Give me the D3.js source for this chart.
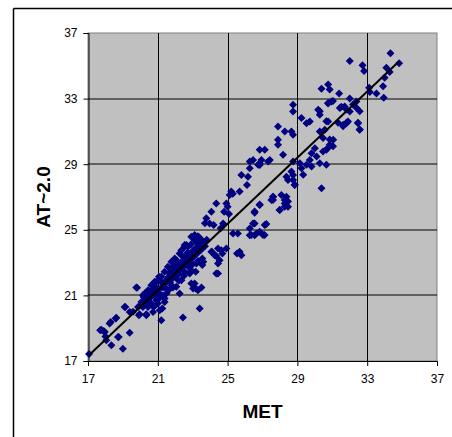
<!DOCTYPE html>
<html>
<head>
<meta charset="utf-8">
<script src="https://cdn.jsdelivr.net/npm/d3@7"></script>
<style>
	body { margin: 0; background: #fff; overflow: hidden; }
	svg { display: block; }
</style>
</head>
<body>
<svg id="chart" width="452" height="437"></svg>
<script>
// MET vs AT~2.0 readings
const metValues = [
	17.06, 17.7, 17.76, 17.96, 18.05, 18.0, 18.3, 18.62, 18.76, 18.34, 19.0, 19.39, 19.14, 19.39, 19.81, 19.96,
	20.34, 20.15, 20.25, 19.58, 19.87, 20.06, 20.19, 20.34, 20.5, 20.63, 20.82, 20.92, 21.2, 21.58, 21.97, 22.35,
	22.54, 22.73, 23.3, 22.64, 22.92, 23.11, 23.36, 22.25, 21.78, 21.39, 21.07, 20.44, 20.15, 20.63, 20.82, 21.49,
	21.97, 22.06, 22.35, 22.54, 22.67, 21.49, 21.39, 20.92, 20.63, 20.44, 20.73, 21.2, 21.11, 21.39, 22.06, 22.35,
	22.54, 22.92, 23.11, 23.3, 23.4, 22.44, 23.59, 24.35, 23.55, 23.55, 23.21, 23.17, 22.83, 22.92, 23.17, 23.5,
	23.02, 22.25, 21.87, 21.77, 21.2, 21.07, 21.26, 20.76, 20.34, 19.92, 19.77, 19.1, 18.72, 18.59, 18.24, 17.9,
	20.0, 20.3, 20.5, 20.7, 20.9, 21.0, 21.1, 21.3, 21.4, 21.5, 21.6, 21.7, 21.8, 21.9, 22.0, 22.1,
	22.2, 22.3, 22.4, 22.5, 22.6, 22.7, 22.8, 22.9, 23.0, 23.1, 23.2, 23.3, 23.4, 23.5, 23.6, 23.7,
	23.8, 20.9, 21.2, 21.5, 21.7, 22.0, 22.2, 21.3, 20.6, 21.0, 21.6, 21.8, 22.2, 22.5, 22.8, 23.0,
	23.3, 26.27, 26.84, 27.32, 25.79, 26.17, 26.11, 25.69, 25.21, 25.12, 25.3, 24.93, 24.35, 25.0, 24.8, 25.08,
	24.07, 23.78, 23.97, 23.7, 24.2, 24.74, 24.6, 23.11, 23.3, 23.5, 22.9, 22.54, 22.7, 22.4, 22.06, 21.9,
	21.68, 23.59, 24.07, 24.26, 24.64, 24.93, 24.54, 24.45, 25.69, 25.79, 25.31, 25.59, 26.27, 26.27, 26.55, 26.84,
	27.12, 27.22, 26.55, 26.55, 26.84, 27.6, 27.6, 27.98, 28.27, 28.37, 28.46, 28.46, 28.75, 28.84, 25.54, 24.7,
	24.45, 24.35, 24.45, 24.1, 28.75, 28.75, 29.23, 29.52, 29.71, 30.19, 30.28, 30.76, 30.95, 31.43, 31.71, 32.0,
	32.38, 32.48, 32.57, 31.81, 31.62, 31.9, 30.76, 30.28, 30.57, 27.89, 28.28, 28.66, 28.75, 27.89, 27.89, 26.84,
	27.13, 28.18, 26.46, 26.94, 27.42, 26.75, 26.84, 26.27, 30.47, 31.05, 30.85, 30.66, 30.47, 30.0, 30.1, 29.81,
	29.71, 29.52, 29.14, 29.23, 28.75, 28.66, 28.37, 28.75, 28.85, 29.33, 29.81, 30.28, 30.66, 30.38, 27.61, 27.51,
	28.08, 28.27, 28.46, 27.99, 28.27, 26.84, 26.55, 26.46, 27.13, 26.65, 27.03, 26.36, 34.33, 34.83, 34.1, 34.29,
	34.0, 32.0, 32.73, 32.82, 33.91, 33.11, 33.15, 33.53, 33.95, 30.76, 30.85, 30.38, 31.39, 32.0, 31.04, 30.76,
	31.52, 31.81, 32.19, 32.38, 32.57, 30.28, 30.66, 31.33, 31.62, 31.81, 32.47, 32.57, 30.85, 31.04, 30.76
];
const atValues = [
	17.42, 18.87, 18.9, 18.77, 18.26, 18.5, 19.38, 19.63, 18.47, 17.96, 17.75, 18.73, 20.3, 19.99, 21.46, 19.85,
	19.85, 20.3, 21.11, 20.0, 20.3, 20.6, 20.91, 21.01, 21.22, 21.32, 21.52, 21.83, 22.13, 22.74, 23.25, 23.76,
	24.07, 23.96, 24.17, 24.07, 24.58, 24.68, 24.54, 23.56, 23.05, 22.44, 22.13, 21.32, 21.01, 21.62, 21.83, 21.93,
	22.44, 22.85, 22.95, 23.25, 23.45, 21.11, 20.81, 20.71, 20.5, 20.3, 19.99, 19.48, 20.1, 20.6, 21.52, 21.93,
	22.44, 22.54, 21.73, 21.32, 20.2, 19.65, 23.05, 22.34, 23.25, 22.85, 22.95, 22.44, 22.34, 21.73, 21.42, 21.48,
	21.42, 21.11, 21.48, 21.97, 21.48, 20.81, 20.2, 20.3, 19.79, 19.79, 21.48, 20.3, 18.47, 19.59, 19.28, 18.83,
	20.4, 20.6, 20.8, 21.0, 21.2, 21.4, 21.1, 21.5, 21.7, 21.9, 22.1, 22.3, 22.5, 22.2, 22.7, 22.4,
	22.9, 22.6, 23.1, 22.8, 23.3, 23.0, 23.5, 23.2, 23.7, 23.4, 23.9, 23.6, 24.0, 23.8, 24.2, 24.0,
	24.4, 20.9, 21.8, 21.4, 21.8, 22.1, 22.3, 21.0, 21.1, 20.5, 21.3, 21.6, 21.9, 22.2, 22.7, 22.9,
	23.1, 29.16, 28.95, 29.16, 28.34, 28.24, 27.73, 27.33, 27.33, 27.12, 27.2, 26.61, 26.61, 26.4, 26.1, 25.96,
	26.1, 25.7, 25.39, 25.4, 25.3, 25.39, 25.1, 24.37, 24.6, 24.4, 24.1, 23.96, 23.6, 23.4, 23.15, 22.8,
	22.4, 23.05, 23.66, 23.45, 23.75, 23.86, 23.15, 22.33, 23.66, 23.45, 24.78, 24.78, 25.08, 24.67, 24.67, 24.88,
	24.68, 25.35, 25.39, 26.04, 26.55, 27.02, 26.82, 26.2, 26.61, 27.02, 26.4, 28.04, 28.34, 27.73, 23.56, 23.56,
	23.86, 23.4, 22.95, 23.66, 32.62, 32.22, 31.81, 31.5, 31.6, 32.32, 32.02, 32.73, 32.83, 32.42, 32.52, 32.22,
	32.83, 31.5, 31.1, 31.5, 31.4, 31.6, 31.61, 31.0, 31.1, 31.3, 31.0, 31.0, 30.79, 30.49, 30.18, 29.88,
	29.88, 29.57, 29.26, 29.26, 29.26, 28.96, 29.06, 28.75, 30.59, 30.49, 30.18, 29.88, 29.77, 29.98, 29.47, 29.67,
	29.26, 28.96, 29.06, 28.75, 29.16, 28.55, 28.24, 28.04, 27.74, 28.35, 28.86, 29.06, 28.96, 27.53, 27.02, 26.82,
	27.12, 26.82, 26.72, 26.21, 26.41, 26.51, 26.11, 25.39, 25.29, 24.78, 24.68, 24.68, 35.76, 35.15, 34.88, 34.62,
	34.27, 35.29, 35.04, 34.68, 33.76, 33.66, 33.4, 33.31, 33.05, 33.86, 33.55, 33.6, 33.31, 33.01, 32.85, 32.7,
	32.5, 32.34, 32.64, 32.44, 32.23, 32.23, 31.62, 31.52, 31.32, 31.52, 31.52, 31.11, 30.5, 30.09, 30.0
];

// fitted line endpoints
const trendMet = [17.1, 34.8];
const trendAt = [17.4, 35.25];

const metTicks = [17, 21, 25, 29, 33, 37];
const atTicks = [17, 21, 25, 29, 33, 37];

const svg = d3.select("svg#chart");

// outer chart frame: only top and left edges show, the rest is cut off
svg
	.append("line")
	.attr("x1", 13.5)
	.attr("y1", 8.5)
	.attr("x2", 452)
	.attr("y2", 8.5)
	.attr("stroke", "#000")
	.attr("stroke-width", 1.5);
svg
	.append("line")
	.attr("x1", 13.5)
	.attr("y1", 8.5)
	.attr("x2", 13.5)
	.attr("y2", 437)
	.attr("stroke", "#000")
	.attr("stroke-width", 1.5);

const margin = { top: 33, right: 15, bottom: 76, left: 88 };
const plotW = 452 - margin.left - margin.right;
const plotH = 437 - margin.top - margin.bottom;

const xScale = d3.scaleLinear().domain([17, 37]).range([margin.left, margin.left + plotW]);
const yScale = d3.scaleLinear().domain([17, 37]).range([margin.top + plotH, margin.top]);

// plot background
svg
	.append("rect")
	.attr("x", margin.left)
	.attr("y", margin.top)
	.attr("width", plotW)
	.attr("height", plotH)
	.attr("fill", "#c0c0c0")
	.attr("stroke", "#808080");

const grid = svg.append("g");

grid
	.selectAll("line.v")
	.data(metTicks.slice(1, -1))
	.join("line")
	.attr("x1", (d) => Math.round(xScale(d)) + 0.5)
	.attr("x2", (d) => Math.round(xScale(d)) + 0.5)
	.attr("y1", margin.top)
	.attr("y2", margin.top + plotH)
	.attr("stroke", "#000");

grid
	.selectAll("line.h")
	.data(atTicks.slice(1, -1))
	.join("line")
	.attr("x1", margin.left)
	.attr("x2", margin.left + plotW)
	.attr("y1", (d) => Math.round(yScale(d)))
	.attr("y2", (d) => Math.round(yScale(d)))
	.attr("stroke", "#000");

// axes
const bottomAxis = d3.axisBottom(xScale).tickValues(metTicks).tickSize(5).tickPadding(8);
const leftAxis = d3.axisLeft(yScale).tickValues(atTicks).tickSize(5).tickPadding(6);

const xAxisG = svg
	.append("g")
	.attr("transform", `translate(0,${margin.top + plotH})`)
	.call(bottomAxis);

const yAxisG = svg
	.append("g")
	.attr("transform", `translate(${margin.left + 0.5},0)`)
	.call(leftAxis);

[xAxisG, yAxisG].forEach((g) => {
	g.select(".domain").attr("stroke", "#000");
	g.selectAll(".tick line").attr("stroke", "#000");
	g.selectAll(".tick text")
		.attr("fill", "#000")
		.style("font-family", "Liberation Sans, Arial, sans-serif")
		.style("font-size", "12px");
});

// scatter points (diamonds)
const diamond = "M0,-4L4,0L0,4L-4,0Z";
svg
	.append("g")
	.selectAll("path")
	.data(metValues.map((m, i) => [m, atValues[i]]))
	.join("path")
	.attr("d", diamond)
	.attr("transform", (d) => `translate(${xScale(d[0])},${yScale(d[1])})`)
	.attr("fill", "#000080");

// trend line
svg
	.append("line")
	.attr("x1", xScale(trendMet[0]))
	.attr("y1", yScale(trendAt[0]))
	.attr("x2", xScale(trendMet[1]))
	.attr("y2", yScale(trendAt[1]))
	.attr("stroke", "#000")
	.attr("stroke-width", 2);

// axis titles
svg
	.append("text")
	.attr("x", margin.left + plotW / 2)
	.attr("y", 418)
	.attr("text-anchor", "middle")
	.style("font-family", "Liberation Sans, Arial, sans-serif")
	.style("font-size", "19px")
	.style("font-weight", "bold")
	.text("MET");

svg
	.append("text")
	.attr("transform", `translate(50,${margin.top + plotH / 2}) rotate(-90)`)
	.attr("text-anchor", "middle")
	.style("font-family", "Liberation Sans, Arial, sans-serif")
	.style("font-size", "19px")
	.style("font-weight", "bold")
	.text("AT~2.0");
</script>
</body>
</html>
